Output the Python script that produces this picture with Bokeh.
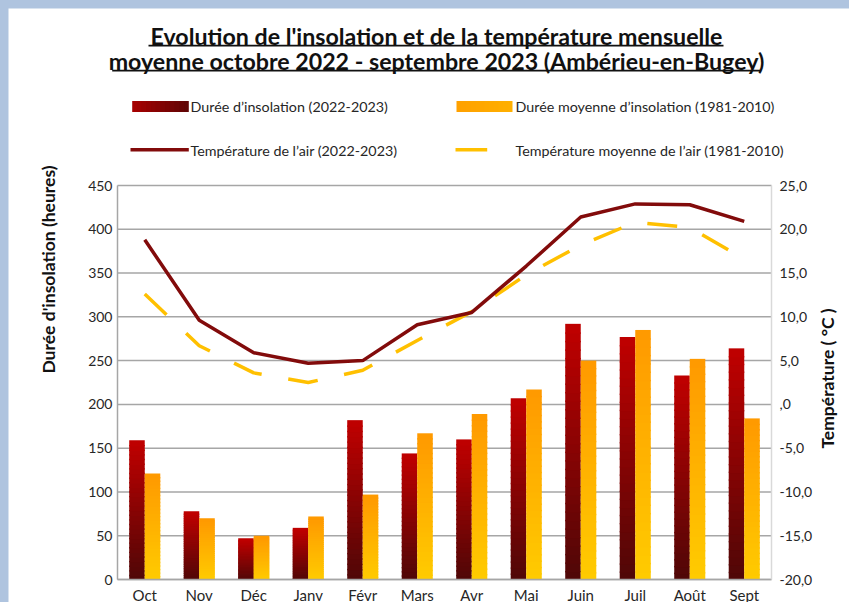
import numpy as np
from bokeh.plotting import figure
from bokeh.models import (ColumnDataSource, Range1d, LinearAxis, FixedTicker, GlobalInlineStyleSheet)
from bokeh.core.properties import value
from bokeh.transform import dodge
from bokeh.embed import file_html
from bokeh.resources import INLINE

# ---------------- data ----------------
months = ["Oct", "Nov", "Déc", "Janv", "Févr", "Mars", "Avr", "Mai", "Juin", "Juil", "Août", "Sept"]
sun_2022_2023 = [159, 78, 47, 59, 182, 144, 160, 207, 292, 277, 233, 264]
sun_1981_2010 = [121, 70, 50, 72, 97, 167, 189, 217, 250, 285, 252, 184]
temp_2022_2023 = [18.8, 9.6, 5.9, 4.7, 5.0, 9.1, 10.5, 15.8, 21.4, 22.9, 22.8, 20.9]
temp_1981_2010 = [12.6, 6.7, 3.6, 2.5, 3.9, 7.3, 10.6, 14.8, 18.2, 20.8, 20.2, 16.6]
left_ticks = [0, 50, 100, 150, 200, 250, 300, 350, 400, 450]
right_ticks = [-20, -15, -10, -5, 0, 5, 10, 15, 20, 25]
right_tick_labels = ["-20,0", "-15,0", "-10,0", "-5,0", ",0", "5,0", "10,0", "15,0", "20,0", "25,0"]

title_lines = ["Evolution de l'insolation et de la température mensuelle",
               "moyenne octobre 2022 - septembre 2023 (Ambérieu-en-Bugey)"]
legend_labels = ["Durée d’insolation (2022-2023)", "Durée moyenne d’insolation (1981-2010)",
                 "Température de l’air (2022-2023)", "Température moyenne de l’air (1981-2010)"]
y_left_title = "Durée d'insolation (heures)"
y_right_title = "Température ( °C )"

# ---------------- layout / style ----------------
FONT = "Lato"
TEXT = "#262626"
GRID = "#a6a6a6"
RED_LINE = "#820b0b"
YELLOW_LINE = "#ffc000"
W, H = 841, 594
OX, OY = 8, 8                  # page offset of the canvas
F_LEFT, F_RIGHT = 117, 771     # page x of the plotting area
Y_ZERO, Y_TOP = 579, 185       # page y of 0 h and 450 h
N = len(months)
PX_PER_H = (Y_ZERO - Y_TOP) / 450.0
PX_PER_C = (Y_ZERO - Y_TOP) / 45.0
PX_PER_CAT = (F_RIGHT - F_LEFT) / N


def dx(X):   # page x -> category coordinate
    return (X - F_LEFT) / PX_PER_CAT


def dy(Y):   # page y -> hours
    return (Y_ZERO - Y) / PX_PER_H


def dt(Y):   # page y -> degrees
    return -20 + (Y_ZERO - Y) / PX_PER_C


def hex2rgb(h):
    h = h.lstrip("#")
    return np.array([int(h[i:i + 2], 16) for i in (0, 2, 4)], dtype=float)


def rgb2hex(c):
    return "#%02x%02x%02x" % tuple(int(round(v)) for v in c)


def blend(c_a, c_b, f):
    return rgb2hex(hex2rgb(c_a) + (hex2rgb(c_b) - hex2rgb(c_a)) * f)


x_center = [i + 0.5 for i in range(N)]
NSEG = 30
SEAM = 1.4 / PX_PER_H   # small overlap between gradient slices (in hours)


def gradient_source(values, top_col, bottom_col):
    xs, bots, tops, cols = [], [], [], []
    for xc, v in zip(x_center, values):
        for i in range(NSEG):
            f = (i + 0.5) / NSEG
            xs.append(xc)
            bots.append(max(0.0, v * i / NSEG - SEAM))
            tops.append(v * (i + 1) / NSEG)
            cols.append(blend(bottom_col, top_col, f))
    return ColumnDataSource(dict(x=xs, b=bots, t=tops, c=cols))


# the plotting frame covers the whole canvas; axes are pinned at fixed data locations
p = figure(width=W, height=H, output_backend="svg", toolbar_location=None,
           x_range=Range1d(dx(OX), dx(OX + W)),
           y_range=Range1d(dy(OY + H), dy(OY)),
           min_border=0, min_border_left=0, min_border_right=0, min_border_top=0, min_border_bottom=0,
           background_fill_color="white", border_fill_color="white")
p.outline_line_color = None
p.extra_y_ranges = {"temp": Range1d(dt(OY + H), dt(OY))}
p.grid.visible = False

# horizontal grid lines across the plotting area
p.segment(x0=[0] * len(left_ticks), x1=[N] * len(left_ticks), y0=left_ticks, y1=left_ticks,
          line_color=GRID, line_width=1.5)

# bars (vertical gradient)
BW = 0.285
src_a = gradient_source(sun_2022_2023, "#c00000", "#4e0707")
src_b = gradient_source(sun_1981_2010, "#ff9900", "#ffcc00")
p.vbar(x=dodge("x", -BW / 2), width=BW, bottom="b", top="t", source=src_a,
       fill_color="c", line_color=None)
p.vbar(x=dodge("x", BW / 2), width=BW, bottom="b", top="t", source=src_b,
       fill_color="c", line_color=None)

# temperature lines
tsrc = ColumnDataSource(dict(x=x_center, t1=temp_2022_2023, t2=temp_1981_2010))
p.line(x="x", y="t2", source=tsrc, y_range_name="temp", line_color=YELLOW_LINE, line_width=3.5,
       line_dash="30 27")
p.line(x="x", y="t1", source=tsrc, y_range_name="temp", line_color=RED_LINE, line_width=3.5)


def style_axis(ax, line_color, size):
    ax.axis_line_color = line_color
    ax.axis_line_width = 1.5
    ax.major_tick_line_color = None
    ax.minor_tick_line_color = None
    ax.major_tick_out = 0
    ax.major_tick_in = 0
    ax.minor_tick_out = 0
    ax.minor_tick_in = 0
    ax.major_label_text_font = FONT
    ax.major_label_text_font_size = size
    ax.major_label_text_color = TEXT


xax = p.xaxis[0]
style_axis(xax, GRID, "15px")
xax.ticker = FixedTicker(ticks=x_center)
xax.major_label_overrides = {xc: m for xc, m in zip(x_center, months)}
xax.bounds = (0, N)
xax.fixed_location = 0
xax.major_label_standoff = 6

yax = p.yaxis[0]
style_axis(yax, GRID, "14px")
yax.ticker = FixedTicker(ticks=left_ticks)
yax.bounds = (0, 450)
yax.fixed_location = 0
yax.major_label_standoff = 5

rax = LinearAxis(y_range_name="temp", ticker=FixedTicker(ticks=right_ticks), bounds=(-20, 25),
                 major_label_overrides={t: s for t, s in zip(right_ticks, right_tick_labels)},
                 fixed_location=N)
style_axis(rax, "#d9d9d9", "14px")
rax.major_label_standoff = 8
p.add_layout(rax, "right")


# ---------------- header + axis titles ----------------
def gtext(texts, X, Y, size, bold=False, align="left", baseline="middle", angle=0.0, color=TEXT):
    p.text(x=[dx(x) for x in X], y=[dy(y) for y in Y], text=texts, angle=angle,
           text_font=value(FONT), text_font_size=value(size),
           text_font_style="bold" if bold else "normal",
           text_align=align, text_baseline=baseline, text_color=color)


def gbox(x0, x1, y0, y1, colors):
    n = len(colors)
    w = (x1 - x0) / n
    p.quad(left=[dx(x0 + i * w) for i in range(n)],
           right=[dx(x0 + (i + 1) * w + (1.0 if i < n - 1 else 0)) for i in range(n)],
           top=[dy(y0)] * n, bottom=[dy(y1)] * n,
           fill_color=colors, line_color=None)


gtext(title_lines, [436, 436], [35.0, 60.0], "23.2px", bold=True, align="center", color="#111111")
gbox(148, 723, 44.3, 46.0, ["#111111"])
gbox(111.7, 760, 69.3, 71.0, ["#111111"])

gbox(131.7, 188.3, 100.5, 111.5, [blend("#a80000", "#5e0505", (i + 0.5) / 12) for i in range(12)])
gbox(456, 512, 100.5, 111.5, [blend("#ffa000", "#ffb000", (i + 0.5) / 12) for i in range(12)])
gbox(130, 188.3, 147.6, 151.0, [RED_LINE])
gbox(455, 486.7, 147.6, 151.0, [YELLOW_LINE])
gtext(legend_labels, [190, 515, 190, 515], [105.7, 105.7, 150, 150], "14.3px")

gtext([y_left_title], [48.3], [269], "17.5px", bold=True, align="center", angle=np.pi / 2, color="#111111")
gtext([y_right_title], [826.7], [378], "17.5px", bold=True, align="center", angle=np.pi / 2, color="#111111")

p.stylesheets = [GlobalInlineStyleSheet(
    css="html { background: #afc4df !important; overflow: hidden !important; } "
        "body { background: #afc4df !important; margin: 8px 0 0 8px !important; padding: 0 !important; }")]

open("out.html", "w").write(file_html(p, INLINE))
